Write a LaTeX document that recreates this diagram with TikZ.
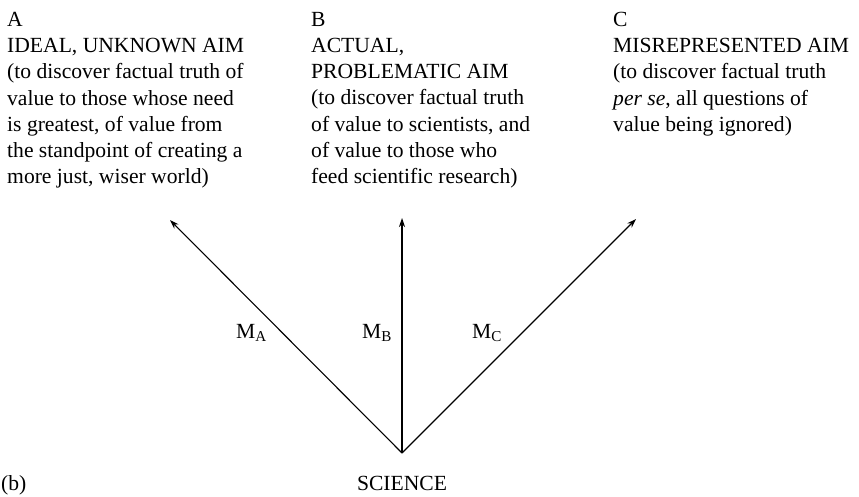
\documentclass[tikz,border=0pt]{standalone}
\usepackage{fontspec}
\setmainfont{Liberation Serif}
\usetikzlibrary{arrows.meta}
\begin{document}
\begin{tikzpicture}[x=1pt,y=-1pt,
    aim/.style={anchor=north west, align=left, inner sep=0pt, font=\fontsize{21.6}{26.2}\selectfont},
    lab/.style={anchor=base west, inner sep=0pt, font=\fontsize{21.6}{24}\selectfont},
    arr/.style={line width=1.1pt, -{Stealth[length=9pt,width=6pt]}}]
    \useasboundingbox (0,0) rectangle (859,496);
    \node[aim] (A) at (7,12) {A\\IDEAL, UNKNOWN AIM\\(to discover factual truth of\\value to those whose need\\is greatest, of value from\\the standpoint of creating a\\more just, wiser world)};
    \node[aim] (B) at (311,12) {B\\ACTUAL,\\PROBLEMATIC AIM\\(to discover factual truth\\of value to scientists, and\\of value to those who\\feed scientific research)};
    \node[aim] (C) at (613,12) {C\\MISREPRESENTED AIM\\(to discover factual truth\\\textit{per se}, all questions of\\value being ignored)};
    \coordinate (O) at (402,453);
    \coordinate (ta) at (170,220);
    \coordinate (tb) at (402,218);
    \coordinate (tc) at (636,219);
    \draw[arr] (O) -- (ta);
    \draw[arr] (O) -- (tb);
    \draw[arr] (O) -- (tc);
    \node[lab] (ma) at (236,338) {M\textsubscript{A}};
    \node[lab] (mb) at (362,338) {M\textsubscript{B}};
    \node[lab] (mc) at (472,338) {M\textsubscript{C}};
    \node[lab, anchor=base] (sci) at (402,490) {SCIENCE};
    \node[lab] (fig) at (1,490) {(b)};
\end{tikzpicture}
\end{document}
